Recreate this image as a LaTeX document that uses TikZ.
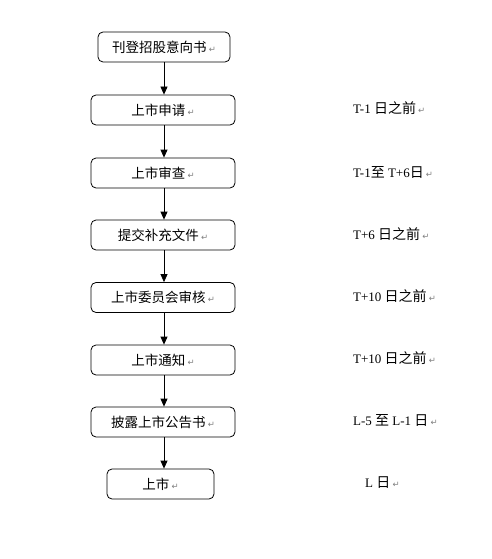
\documentclass[tikz,border=0pt]{standalone}
\usepackage{fontspec}
\setmainfont{Liberation Serif}
\newfontfamily\cjk{Noto Sans CJK SC}
\newfontfamily\markfont{DejaVu Sans}
\usetikzlibrary{arrows.meta}
\newcommand{\zh}[1]{{\cjk\fontsize{14}{14}\selectfont #1}}
\newcommand{\pmark}{\,{\markfont\fontsize{8.5}{8.5}\selectfont\color{black!50}↵}}
\tikzset{
  stepbox/.style={rectangle, rounded corners=5pt, draw=black, line width=0.8pt, fill=white,
                  text=black, align=center, minimum width=144pt, minimum height=30pt,
                  inner sep=2pt, font=\cjk\fontsize{13.5}{13.5}\selectfont},
  datelbl/.style={anchor=west, inner sep=0pt, font=\fontsize{13}{13}\selectfont},
  flowarr/.style={-{Triangle[length=8pt,width=7pt]}, line width=0.8pt},
}
\begin{document}
\begin{tikzpicture}[x=1pt,y=-1pt]
\useasboundingbox (0,0) rectangle (492,559);
% flow steps
\node[stepbox, minimum width=132pt] (s1) at (164,47) {刊登招股意向书\pmark};
\node[stepbox] (s2) at (163,110) {上市申请\pmark};
\node[stepbox] (s3) at (163,173) {上市审查\pmark};
\node[stepbox] (s4) at (163,235) {提交补充文件\pmark};
\node[stepbox] (s5) at (163,297.5) {上市委员会审核\pmark};
\node[stepbox] (s6) at (163,360) {上市通知\pmark};
\node[stepbox] (s7) at (163,422) {披露上市公告书\pmark};
\node[stepbox, minimum width=107pt] (s8) at (160.5,484) {上市\pmark};
\foreach \a/\b in {s1/s2,s2/s3,s3/s4,s4/s5,s5/s6,s6/s7,s7/s8}{
  \draw[flowarr] (\a.south -| 164,0) -- (\b.north -| 164,0);
}
% time points
\node[datelbl] (t2) at (353,108) {T-1 \zh{日之前}\pmark};
\node[datelbl] (t3) at (353,172) {T-1\zh{至} T+6\zh{日}\pmark};
\node[datelbl] (t4) at (353,234) {T+6 \zh{日之前}\pmark};
\node[datelbl] (t5) at (353,296) {T+10 \zh{日之前}\pmark};
\node[datelbl] (t6) at (353,358) {T+10 \zh{日之前}\pmark};
\node[datelbl] (t7) at (353,420) {L-5 \zh{至} L-1 \zh{日}\pmark};
\node[datelbl] (t8) at (365,483) {L \zh{日}\pmark};
\end{tikzpicture}
\end{document}
